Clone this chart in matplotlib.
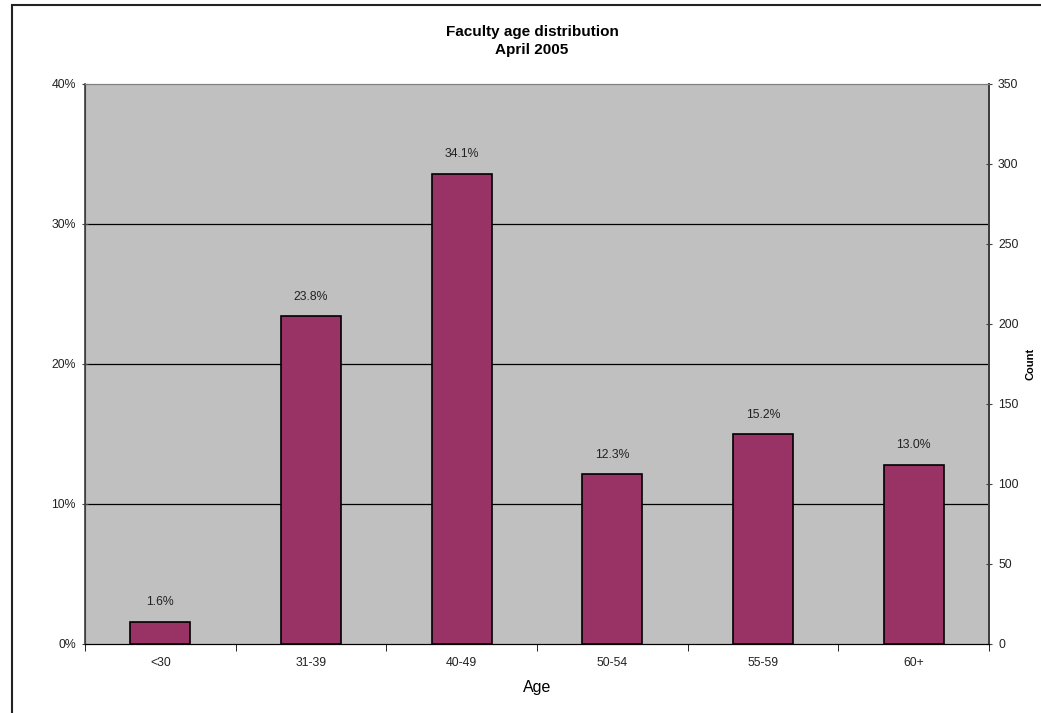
import matplotlib
matplotlib.use("Agg")
import matplotlib.pyplot as plt
from matplotlib.patches import Rectangle
import numpy as np

categories = ["<30", "31-39", "40-49", "50-54", "55-59", "60+"]
counts = [14, 205, 294, 106, 131, 112]
pct_labels = ["1.6%", "23.8%", "34.1%", "12.3%", "15.2%", "13.0%"]
pct_ticks = [0, 0.1, 0.2, 0.3, 0.4]
pct_tick_labels = ["0%", "10%", "20%", "30%", "40%"]
count_ticks = [0, 50, 100, 150, 200, 250, 300, 350]

plt.rcParams['font.family'] = ['Liberation Sans', 'DejaVu Sans']

W, H = 1041, 713
fig = plt.figure(figsize=(W / 100, H / 100), dpi=100)

left, right, top, bottom = 85, 989, 84, 644
ax = fig.add_axes([left / W, 1 - bottom / H, (right - left) / W, (bottom - top) / H])
ax.set_facecolor("#C0C0C0")
ax.set_xlim(-0.5, len(categories) - 0.5)
ax.set_ylim(0, 0.4)
ax.set_yticks(pct_ticks)
ax.set_yticklabels(pct_tick_labels, fontsize=8.8, color="#222222")
for y in pct_ticks[1:-1]:
    ax.axhline(y, color="black", lw=0.9, zorder=1)

ax.set_xticks(np.arange(len(categories)))
ax.set_xticklabels(categories, fontsize=8.8, color="#222222")
ax.set_xticks(np.arange(len(categories) + 1) - 0.5, minor=True)
ax.tick_params(axis="x", which="major", length=0, pad=9)
ax.tick_params(axis="x", which="minor", length=5, direction="out", color="black")
ax.tick_params(axis="y", which="major", length=5, direction="inout", color="#404040", pad=4)
ax.set_xlabel("Age", fontsize=11.5, labelpad=8)

ax.spines["top"].set_color("#808080")
ax.spines["left"].set_color("#404040")
ax.spines["bottom"].set_color("black")
ax.spines["right"].set_color("#404040")
ax.spines["left"].set_linewidth(1.2)
ax.spines["right"].set_linewidth(1.2)

ax2 = ax.twinx()
ax2.set_ylim(0, 350)
ax2.set_yticks(count_ticks)
ax2.set_yticklabels([str(t) for t in count_ticks], fontsize=8.8, color="#222222")
ax2.tick_params(axis="y", length=5, direction="inout", color="#404040", pad=4)
ax2.spines["right"].set_color("#404040")
ax2.spines["right"].set_linewidth(1.4)
ax2.spines["top"].set_color("#808080")
ax2.spines["left"].set_color("#404040")
ax2.spines["bottom"].set_color("black")
ax2.patch.set_visible(False)

x = np.arange(len(categories))
bars = ax2.bar(x, counts, width=0.4, color="#993366", edgecolor="black", linewidth=1.2, zorder=3)
for xi, c, lab in zip(x, counts, pct_labels):
    ax2.annotate(lab, (xi, c), xytext=(0, 14), textcoords="offset points",
                 ha="center", va="center", fontsize=8.8, color="#222222")

fig.text(1030 / W, 1 - 364 / H, "Count", rotation=90, ha="center", va="center",
         fontsize=8, fontweight="bold")

fig.text(532 / W, 1 - 32 / H, "Faculty age distribution", ha="center", va="center",
         fontsize=11, fontweight="bold")
fig.text(532 / W, 1 - 50 / H, "April 2005", ha="center", va="center",
         fontsize=11, fontweight="bold")

frame = Rectangle((12 / W, -0.1), 1.2, 1 - 5 / H + 0.1, transform=fig.transFigure,
                  fill=False, edgecolor="#222222", linewidth=1.5, clip_on=False)
fig.patches.append(frame)

fig.savefig("out.png", dpi=100)
